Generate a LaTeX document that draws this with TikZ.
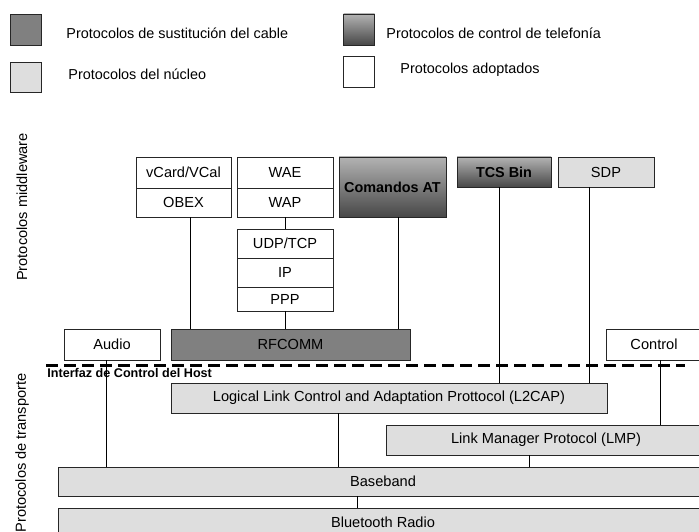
\documentclass[tikz,border=0pt]{standalone}
\usepackage{fontspec}
\setmainfont{Liberation Sans}

\begin{document}
\begin{tikzpicture}[x=1pt,y=-1pt,line width=0.8pt]
\tikzset{BoxStyle/.style = {draw=black!85,inner sep=0pt,
                            minimum width=96pt,minimum height=30pt,
                            font=\fontsize{14.6}{16}\selectfont},
         AdoptStyle/.style = {BoxStyle,fill=white},
         CoreStyle/.style = {BoxStyle,fill=black!13},
         CableStyle/.style = {BoxStyle,fill=black!50},
         PhoneStyle/.style = {BoxStyle,top color=black!30,bottom color=black!72,
                              font=\fontsize{14.4}{16}\selectfont\bfseries},
         LegendText/.style = {anchor=west,inner sep=0pt,
                              font=\fontsize{14.4}{16}\selectfont},
         SideText/.style = {rotate=90,inner sep=0pt,
                            font=\fontsize{14.6}{16}\selectfont}}
\clip (0,0) rectangle (699,532);
% legend
\node[CableStyle,minimum width=31pt,minimum height=31pt] (keyCable) at (25.5,29.5) {};
\node[CoreStyle,minimum width=31pt,minimum height=30pt] (keyCore) at (25.5,77) {};
\node[PhoneStyle,minimum width=31pt,minimum height=31pt] (keyPhone) at (359,29.5) {};
\node[AdoptStyle,minimum width=31pt,minimum height=31pt] (keyAdopt) at (359,71.5) {};
\node[LegendText] (txtCable) at (66,33) {Protocolos de sustitución del cable};
\node[LegendText] (txtCore) at (68,74) {Protocolos del núcleo};
\node[LegendText] (txtPhone) at (386,33) {Protocolos de control de telefonía};
\node[LegendText] (txtAdopt) at (400,70) {Protocolos adoptados};
% side labels
\node[SideText] (middle) at (22,207) {Protocolos middleware};
\node[SideText] (transp) at (22,453) {Protocolos de transporte};
% middleware
\node[AdoptStyle,minimum width=95pt,minimum height=31pt] (vcard) at (183.5,172.5) {vCard/VCal};
\node[AdoptStyle,minimum width=95pt,minimum height=29pt] (obex) at (183.5,202.5) {OBEX};
\node[AdoptStyle,minimum height=31pt] (wae) at (285,172.5) {WAE};
\node[AdoptStyle,minimum height=29pt] (wap) at (285,202.5) {WAP};
\node[AdoptStyle,minimum height=29pt] (udp) at (285,243.5) {UDP/TCP};
\node[AdoptStyle,minimum height=29pt] (ip) at (285,272.5) {IP};
\node[AdoptStyle,minimum height=24pt] (ppp) at (285,299) {PPP};
\node[PhoneStyle,minimum width=107pt,minimum height=60pt] (at) at (392.5,187) {Comandos AT};
\node[PhoneStyle,minimum width=94pt] (tcs) at (504,172) {TCS Bin};
\node[CoreStyle] (sdp) at (606,172) {SDP};
\node[AdoptStyle,minimum height=31pt] (audio) at (112,344.5) {Audio};
\node[CableStyle,minimum width=239pt,minimum height=31pt] (rfcomm) at (290.5,344.5) {RFCOMM};
\node[AdoptStyle,minimum height=31pt] (control) at (654,344.5) {Control};
% transport
\node[CoreStyle,minimum width=436pt] (l2cap) at (389,398)
  {Logical Link Control and Adaptation Prottocol (L2CAP)};
\node[CoreStyle,minimum width=320pt] (lmp) at (546,440) {Link Manager Protocol (LMP)};
\node[CoreStyle,minimum width=650pt,minimum height=29pt] (base) at (383,481.5) {Baseband};
\node[CoreStyle,minimum width=650pt,minimum height=29pt] (radio) at (383,522.5) {Bluetooth Radio};
% host controller interface
\coordinate (hciL) at (46,365);
\coordinate (hciR) at (685,365);
\node[anchor=west,inner sep=0pt,font=\fontsize{12.6}{14}\selectfont\bfseries] (hci) at (47,373)
  {Interfaz de Control del Host};
% connectors
\draw ([xshift=6.5pt]obex.south) -- ([xshift=6.5pt]obex.south |- rfcomm.north);
\draw (wap) -- (udp);
\draw (ppp) -- (ppp.south |- rfcomm.north);
\draw ([xshift=5.5pt]at.south) -- ([xshift=5.5pt]at.south |- rfcomm.north);
\draw ([xshift=-5pt]tcs.south) -- ([xshift=-5pt]tcs.south |- l2cap.north);
\draw ([xshift=-17pt]sdp.south) -- ([xshift=-17pt]sdp.south |- l2cap.north);
\draw ([xshift=6pt]control.south) -- ([xshift=6pt]control.south |- lmp.north);
\draw ([xshift=-6pt]audio.south) -- ([xshift=-6pt]audio.south |- base.north);
\draw ([xshift=-51pt]l2cap.south) -- ([xshift=-51pt]l2cap.south |- base.north);
\draw ([xshift=-17pt]lmp.south) -- ([xshift=-17pt]lmp.south |- base.north);
\draw ([xshift=-26pt]base.south) -- ([xshift=-26pt]base.south |- radio.north);
\draw[line width=3pt,dash pattern=on 12pt off 6pt] (hciL) -- (hciR);
\end{tikzpicture}
\end{document}
